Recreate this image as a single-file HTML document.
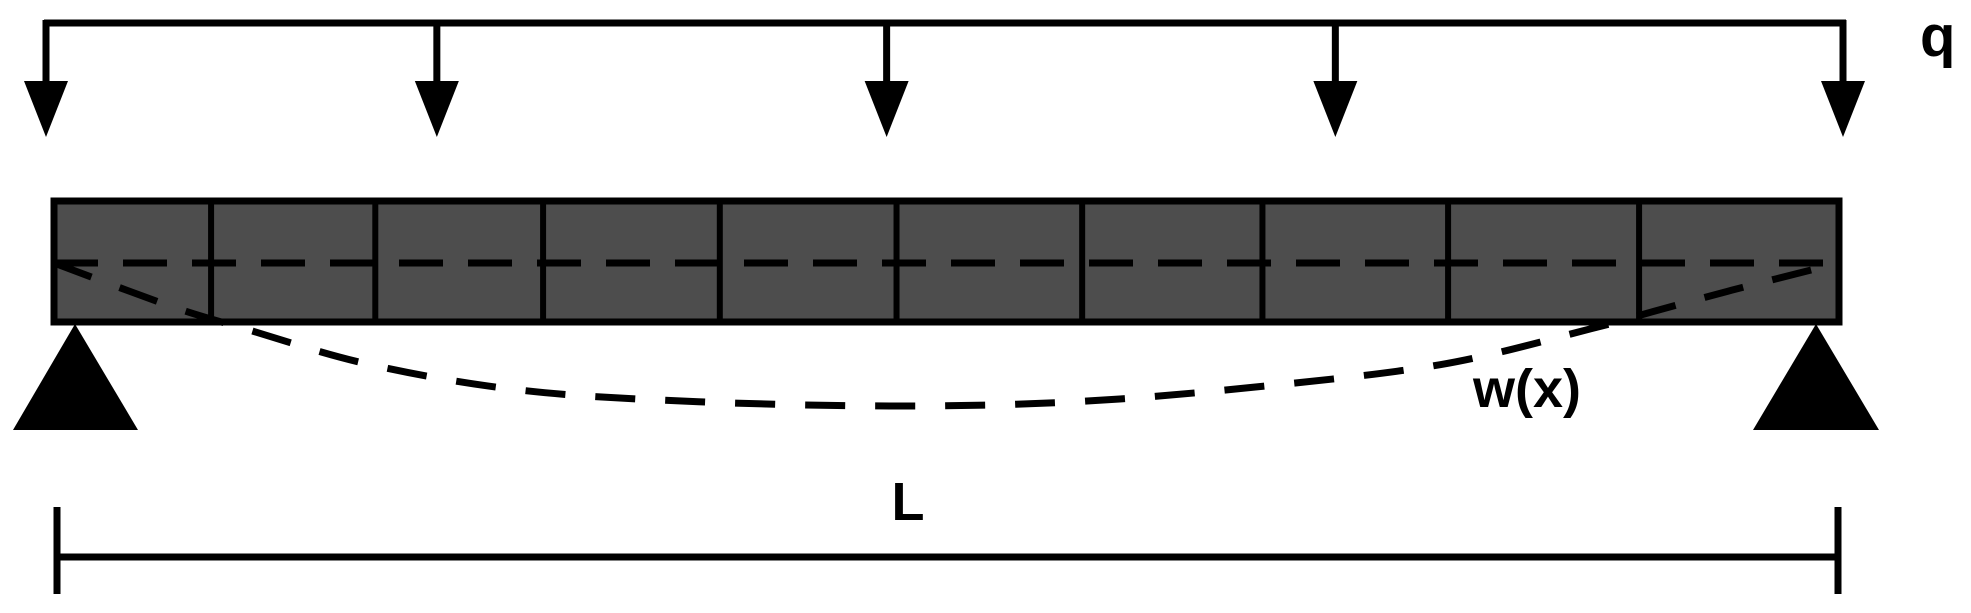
<!DOCTYPE html>
<html><head><meta charset="utf-8"><style>
html,body{margin:0;padding:0;background:#fff;}
svg{display:block;}
text{font-family:"Liberation Sans",sans-serif;font-weight:bold;fill:#000;}
</style></head><body>
<svg id="c" width="1971" height="613" viewBox="0 0 1971 613">
<g id="load">
<line x1="44" y1="23" x2="1846" y2="23" stroke="#000" stroke-width="7"/>
</g>
<g id="beam">
<rect x="54" y="201" width="1785" height="121" fill="#4d4d4d" stroke="#000" stroke-width="7"/>
</g>
<line x1="54" y1="263" x2="1839" y2="263" stroke="#000" stroke-width="7" stroke-dasharray="44 25"/>
<path id="defl" fill="none" stroke="#000" stroke-width="7" stroke-dasharray="40 30"/>
<polygon points="75,324 13,430 138,430" fill="#000"/>
<polygon points="1816,324 1753,430 1879,430" fill="#000"/>
<line x1="57" y1="507" x2="57" y2="594" stroke="#000" stroke-width="7"/>
<line x1="1838" y1="507" x2="1838" y2="594" stroke="#000" stroke-width="7"/>
<line x1="57" y1="557" x2="1838" y2="557" stroke="#000" stroke-width="7"/>
<text x="908" y="520" font-size="54" text-anchor="middle">L</text>
<text x="1473" y="407" font-size="54">w(x)</text>
<text x="1920" y="56" font-size="58">q</text>
</svg>
<script>
const arrowPositions = [0, 0.2175, 0.4678, 0.7175, 1];
const dividerPositions = [0.088, 0.180, 0.274, 0.373, 0.472, 0.576, 0.677, 0.781, 0.888];
const curvePos = [0, 0.065, 0.107, 0.177, 0.262, 0.361, 0.474, 0.572, 0.671, 0.777, 0.861, 0.890, 0.940, 1];
const curveDefl = [0, 0.30, 0.46, 0.71, 0.89, 0.97, 1.0, 0.97, 0.87, 0.71, 0.46, 0.36, 0.19, 0];
const NS = "http://www.w3.org/2000/svg";
const bx0 = 54, bx1 = 1839, ax0 = 46, ax1 = 1843;
function xBeam(f){ return bx0 + f*(bx1-bx0); }
function xArrow(f){ return ax0 + f*(ax1-ax0); }
function yDefl(d){ return 263 + d*143; }
const load = document.getElementById('load');
arrowPositions.forEach(function(f){
  const x = xArrow(f);
  const l = document.createElementNS(NS,'line');
  l.setAttribute('x1',x);l.setAttribute('x2',x);l.setAttribute('y1',20);l.setAttribute('y2',90);
  l.setAttribute('stroke','#000');l.setAttribute('stroke-width','7');
  
  
  load.appendChild(l);
  const p = document.createElementNS(NS,'polygon');
  p.setAttribute('points',(x-22)+',81 '+(x+22)+',81 '+x+',137');
  p.setAttribute('fill','#000');
  
  
  load.appendChild(p);
});
const beam = document.getElementById('beam');
dividerPositions.forEach(function(f){
  const x = xBeam(f);
  const l = document.createElementNS(NS,'line');
  l.setAttribute('x1',x);l.setAttribute('x2',x);l.setAttribute('y1',201);l.setAttribute('y2',322);
  l.setAttribute('stroke','#000');l.setAttribute('stroke-width','6');
  
  
  beam.appendChild(l);
});
const pts = curvePos.map(function(f,i){ return [xBeam(f), yDefl(curveDefl[i])]; });
let d = 'M'+pts[0][0]+','+pts[0][1];
for(let i=0;i<pts.length-1;i++){
  const p0 = pts[Math.max(0,i-1)], p1 = pts[i], p2 = pts[i+1], p3 = pts[Math.min(pts.length-1,i+2)];
  const c1x = p1[0]+(p2[0]-p0[0])/6, c1y = p1[1]+(p2[1]-p0[1])/6;
  const c2x = p2[0]-(p3[0]-p1[0])/6, c2y = p2[1]-(p3[1]-p1[1])/6;
  d += ' C'+c1x+','+c1y+' '+c2x+','+c2y+' '+p2[0]+','+p2[1];
}
document.getElementById('defl').setAttribute('d', d);
</script>
</body></html>
